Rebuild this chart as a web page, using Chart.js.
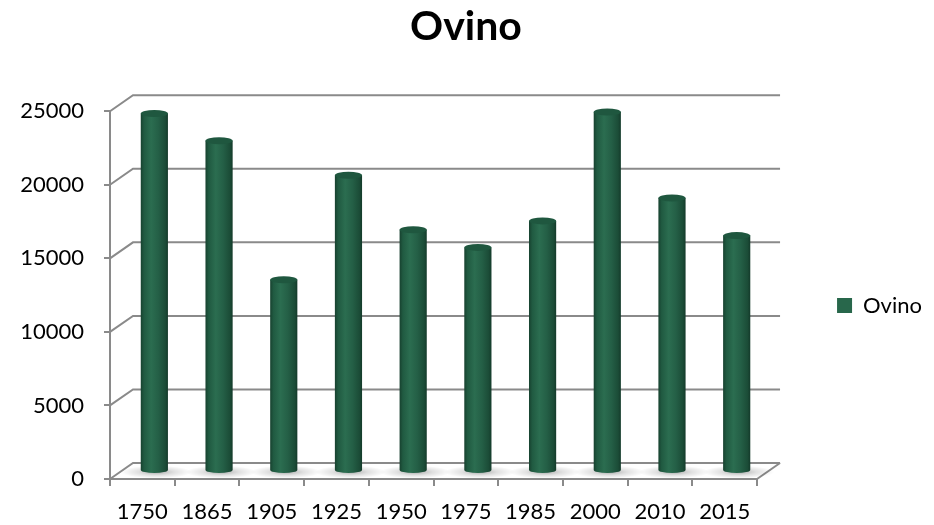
<!DOCTYPE html>
<html>
<head>
<meta charset="utf-8">
<title>Ovino</title>
<script src="https://cdn.jsdelivr.net/npm/chart.js@4.4.0/dist/chart.umd.min.js"></script>
<style>
  html, body { margin: 0; padding: 0; background: #ffffff; }
  canvas { display: block; }
</style>
</head>
<body>
<canvas id="ovinoChart" width="934" height="525"></canvas>
<script>
const years = ["1750", "1865", "1905", "1925", "1950", "1975", "1985", "2000", "2010", "2015"];
const ovino = [24300, 22450, 13000, 20100, 16400, 15200, 17000, 24400, 18550, 16000];
const yTicks = [0, 5000, 10000, 15000, 20000, 25000];

const FONT = "Lato, 'Open Sans', sans-serif";
const GRID_COLOR = "#8a8a8a";
const BAR_COLOR = "#28674b";
// depth of the fake 3D box, and where the cylinders sit inside it
const DEPTH_X = 23;
const DEPTH_Y = -16;
const BAR_SHIFT_X = 12;
const BAR_SHIFT_Y = -8;
const BAR_PCT = 0.42;

function barHalfWidth(chart) {
  return (chart.scales.x.width / years.length) * BAR_PCT / 2;
}

function cylinderFill(context) {
  if (context.type !== "data") return BAR_COLOR;
  const chart = context.chart;
  const xScale = chart.scales.x;
  if (!xScale) return BAR_COLOR;
  const cx = xScale.getPixelForValue(context.dataIndex);
  const hw = barHalfWidth(chart);
  if (!Number.isFinite(cx) || !Number.isFinite(hw) || hw <= 0) return BAR_COLOR;
  const g = chart.ctx.createLinearGradient(cx - hw, 0, cx + hw, 0);
  g.addColorStop(0, "#17412f");
  g.addColorStop(0.12, "#205a41");
  g.addColorStop(0.38, "#2b6d50");
  g.addColorStop(0.65, "#245f46");
  g.addColorStop(0.9, "#1b4c37");
  g.addColorStop(1, "#143a2a");
  return g;
}

const cylinder3d = {
  id: "cylinder3d",
  beforeDatasetsDraw(chart) {
    const { ctx } = chart;
    const x = chart.scales.x;
    const y = chart.scales.y;
    const base = y.getPixelForValue(0);

    ctx.save();
    ctx.strokeStyle = GRID_COLOR;
    ctx.lineWidth = 2;
    y.ticks.forEach((t) => {
      const py = y.getPixelForValue(t.value);
      ctx.beginPath();
      ctx.moveTo(x.left, py);
      ctx.lineTo(x.left + DEPTH_X, py + DEPTH_Y);
      ctx.lineTo(x.right + DEPTH_X, py + DEPTH_Y);
      ctx.stroke();
    });
    ctx.beginPath();
    ctx.moveTo(x.right, base);
    ctx.lineTo(x.right + DEPTH_X, base + DEPTH_Y);
    ctx.stroke();

    // soft shadows on the floor
    const hw = barHalfWidth(chart);
    ovino.forEach((v, i) => {
      ctx.save();
      ctx.translate(x.getPixelForValue(i) + BAR_SHIFT_X + 2, base + BAR_SHIFT_Y + 1);
      ctx.scale(1, 0.18);
      const r = hw * 2.6;
      const g = ctx.createRadialGradient(0, 0, 0, 0, 0, r);
      g.addColorStop(0, "rgba(0,0,0,0.32)");
      g.addColorStop(0.5, "rgba(0,0,0,0.12)");
      g.addColorStop(1, "rgba(0,0,0,0)");
      ctx.fillStyle = g;
      ctx.beginPath();
      ctx.arc(0, 0, r, 0, Math.PI * 2);
      ctx.fill();
      ctx.restore();
    });
    ctx.restore();

    ctx.save();
    ctx.translate(BAR_SHIFT_X, BAR_SHIFT_Y);
  },
  afterDatasetsDraw(chart) {
    const { ctx } = chart;
    chart.getDatasetMeta(0).data.forEach((bar, i) => {
      const { x, y, base, width } = bar.getProps(["x", "y", "base", "width"], true);
      const rx = width / 2;
      ctx.fillStyle = cylinderFill({ type: "data", chart, dataIndex: i });
      ctx.beginPath();
      ctx.ellipse(x, base, rx, 3, 0, 0, Math.PI);
      ctx.fill();
      ctx.fillStyle = "#1f573f";
      ctx.beginPath();
      ctx.ellipse(x, y, rx, 3.5, 0, 0, Math.PI * 2);
      ctx.fill();
    });
    ctx.restore();
  }
};

new Chart(document.getElementById("ovinoChart"), {
  type: "bar",
  data: {
    labels: years,
    datasets: [
      {
        label: "Ovino",
        data: ovino,
        yAxisID: "y",
        backgroundColor: cylinderFill,
        borderWidth: 0,
        categoryPercentage: 1,
        barPercentage: BAR_PCT,
        clip: false
      }
    ]
  },
  options: {
    responsive: false,
    animation: false,
    layout: { padding: { top: 0, right: 2, bottom: 0, left: 0 } },
    plugins: {
      title: {
        display: true,
        text: "Ovino",
        color: "#000000",
        font: { family: FONT, size: 41, weight: "bold" },
        padding: { top: 2, bottom: 60 }
      },
      legend: {
        position: "right",
        title: {
          display: true,
          text: " ",
          font: { family: FONT, size: 10 },
          padding: { top: 37, bottom: 37 }
        },
        labels: {
          color: "#000000",
          font: { family: FONT, size: 22 },
          boxWidth: 15,
          boxHeight: 15,
          padding: 5,
          generateLabels(chart) {
            const items = Chart.defaults.plugins.legend.labels.generateLabels(chart);
            items.forEach((item) => {
              item.fillStyle = BAR_COLOR;
              item.strokeStyle = BAR_COLOR;
              item.lineWidth = 0;
            });
            return items;
          }
        }
      },
      tooltip: { enabled: false }
    },
    scales: {
      x: {
        grid: {
          offset: true,
          drawOnChartArea: false,
          tickLength: 7,
          color: GRID_COLOR,
          lineWidth: 2
        },
        border: { color: GRID_COLOR, width: 2 },
        ticks: {
          color: "#000000",
          font: { family: FONT, size: 22 },
          padding: 13,
          maxRotation: 0,
          autoSkip: false
        },
        afterFit(scale) {
          scale.height = 46;
        }
      },
      y: {
        min: yTicks[0],
        max: yTicks[yTicks.length - 1],
        ticks: {
          stepSize: yTicks[1] - yTicks[0],
          color: "#000000",
          font: { family: FONT, size: 22 },
          padding: 20,
          callback: (value) => String(value)
        },
        grid: {
          drawOnChartArea: false,
          tickLength: 6,
          color: GRID_COLOR,
          lineWidth: 2
        },
        border: { color: GRID_COLOR, width: 2 },
        afterFit(scale) {
          scale.width = 110;
        }
      },
      spacer: {
        type: "linear",
        position: "right",
        grid: { display: false },
        ticks: { display: false },
        border: { display: false },
        afterFit(scale) {
          scale.width = 75;
        }
      }
    }
  },
  plugins: [cylinder3d]
});
</script>
</body>
</html>
